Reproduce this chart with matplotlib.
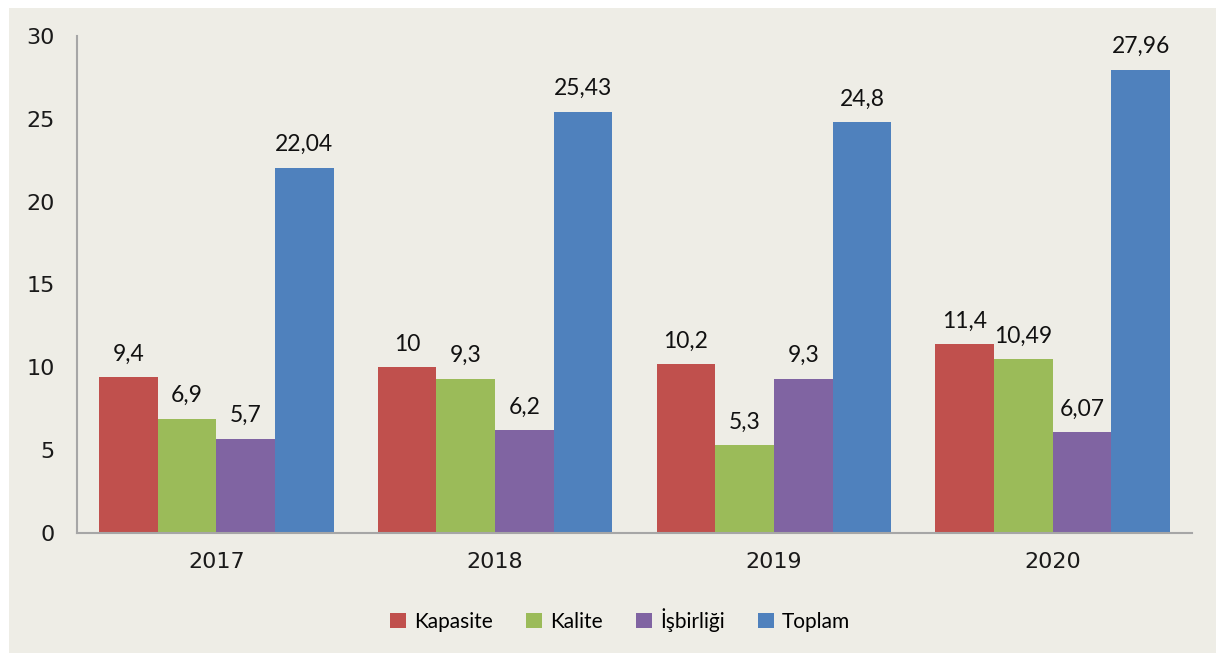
import matplotlib
matplotlib.use("Agg")
import matplotlib.pyplot as plt
import numpy as np
from matplotlib.patches import Rectangle

years = ["2017", "2018", "2019", "2020"]
series_names = ["Kapasite", "Kalite", "İşbirliği", "Toplam"]
kapasite = [9.4, 10, 10.2, 11.4]
kalite = [6.9, 9.3, 5.3, 10.49]
isbirligi = [5.7, 6.2, 9.3, 6.07]
toplam = [22.04, 25.43, 24.8, 27.96]
colors = ["#C0504D", "#9BBB59", "#8064A2", "#4F81BD"]

BG = "#EEEDE6"


def tr_fmt(v):
    s = f"{v:.2f}".rstrip("0").rstrip(".")
    return s.replace(".", ",")


fig = plt.figure(figsize=(12.16, 6.53), dpi=100, facecolor="white")
fig.patches.append(Rectangle((9 / 1216, 0), 1, 1 - 8 / 653, transform=fig.transFigure,
                             facecolor=BG, edgecolor="none", zorder=-10))
ax = fig.add_axes([77 / 1216, 1 - 533 / 653, (1192 - 77) / 1216, (533 - 36) / 653])
ax.set_facecolor("none")

x = np.arange(len(years))
w = 0.2105
all_series = [kapasite, kalite, isbirligi, toplam]
for k, (vals, nm, col) in enumerate(zip(all_series, series_names, colors)):
    pos = x + (k - 1.5) * w
    ax.bar(pos, vals, width=w, color=col, label=nm, edgecolor="none")
    for px, v in zip(pos, vals):
        ax.annotate(tr_fmt(v), (px, v), xytext=(0, 12), textcoords="offset points",
                    ha="center", va="baseline", fontsize=16.5, family="Lato", color="#111111")

ax.set_xlim(-0.5, 3.5)
ax.set_ylim(0, 30)
ax.set_yticks([0, 5, 10, 15, 20, 25, 30])
ax.set_xticks(x)
ax.set_xticklabels(years)
ax.tick_params(axis="both", length=0, labelsize=16, colors="#1a1a1a")
ax.tick_params(axis="y", pad=16)
ax.tick_params(axis="x", pad=14)
for side in ["top", "right"]:
    ax.spines[side].set_visible(False)
for side in ["left", "bottom"]:
    ax.spines[side].set_color("#A6A6A6")
    ax.spines[side].set_linewidth(1.5)

fig.legend(loc="center", bbox_to_anchor=(0.51, 1 - 620 / 653), ncol=4, frameon=False,
           prop={"family": "Lato", "size": 15}, handlelength=0.75, handleheight=0.75,
           handletextpad=0.4, columnspacing=1.6)

fig.savefig("out.png", dpi=100, facecolor=fig.get_facecolor())
